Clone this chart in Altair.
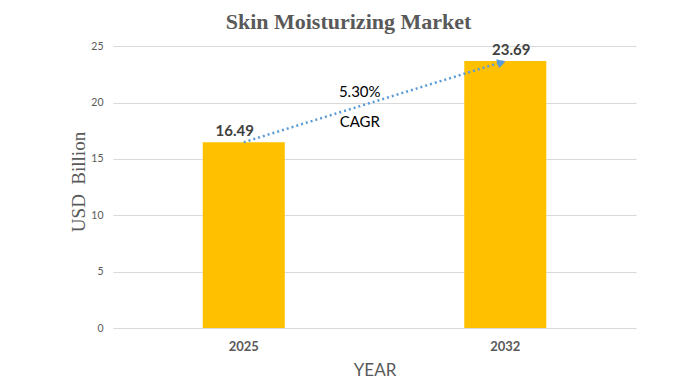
import altair as alt
import pandas as pd

years = ["2025", "2032"]
values = [16.49, 23.69]
labels = ["16.49", "23.69"]
cagr_text = ["5.30%", "CAGR"]
cagr_y = [20.9, 18.3]

bars_df = pd.DataFrame({"year": years, "value": values, "label": labels})
cagr_df = pd.DataFrame({"year": ["2025", "2025"], "y": cagr_y, "t": cagr_text})

x_enc = alt.X("year:N", scale=alt.Scale(domain=years, paddingInner=0, paddingOuter=0),
              axis=alt.Axis(title="YEAR", labelAngle=0, labelFontWeight="bold", labelFontSize=13,
                            labelColor="#595959", labelFont="Lato", labelPadding=12,
                            titleFont="Lato", titleFontSize=17, titleFontWeight="normal",
                            titleColor="#595959", titlePadding=9, ticks=False, domain=False,
                            grid=False))
y_scale = alt.Scale(domain=[0, 25])

bars = alt.Chart(bars_df).mark_bar(size=82, color="#FFC000").encode(
    x=x_enc,
    y=alt.Y("value:Q", scale=y_scale,
            axis=alt.Axis(title="USD\u00a0\u00a0Billion", values=[0, 5, 10, 15, 20, 25],
                          titleFont="Times New Roman", titleFontSize=19, titleFontWeight="normal",
                          titleColor="#595959", titlePadding=2, labelFont="Lato",
                          labelFontSize=10.5, labelColor="#595959", labelPadding=10,
                          ticks=False, domain=False, gridColor="#D9D9D9", gridWidth=1)),
)

label_style = dict(baseline="bottom", dy=-3, fontSize=15, fontWeight="bold", font="Lato",
                   color="#404040")
label_first = alt.Chart(bars_df.iloc[[0]]).mark_text(dx=-9, **label_style).encode(
    x="year:N", y="value:Q", text="label:N"
)
label_second = alt.Chart(bars_df.iloc[[1]]).mark_text(dx=6, **label_style).encode(
    x="year:N", y="value:Q", text="label:N"
)

line = alt.Chart(bars_df).mark_line(color="#5B9BD5", strokeWidth=2.5, strokeDash=[2, 3]).encode(
    x="year:N", y="value:Q"
)

head = alt.Chart(bars_df.iloc[[1]]).mark_point(shape="triangle", angle=73, size=90, filled=True,
                                               color="#5B9BD5", opacity=1, xOffset=-5,
                                               yOffset=2).encode(
    x="year:N", y="value:Q"
)

cagr = alt.Chart(cagr_df).mark_text(dx=116, fontSize=15, font="Lato", color="#000000").encode(
    x="year:N", y="y:Q", text="t:N"
)

chart = alt.layer(bars, line, head, label_first, label_second, cagr).properties(
    width=523, height=293,
    title=alt.TitleParams("Skin Moisturizing Market", font="Times New Roman", fontSize=22,
                          fontWeight="bold", color="#595959", anchor="middle", dx=-26, dy=3,
                          offset=4),
    autosize=alt.AutoSizeParams(type="none"),
    padding={"left": 105, "top": 27, "right": 53, "bottom": 56},
).configure_view(stroke=None)

chart.save("out.html", embed_options={"renderer": "svg", "actions": False})
